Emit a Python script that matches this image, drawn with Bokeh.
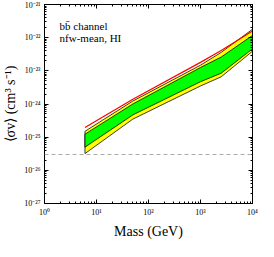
from bokeh.plotting import figure
from bokeh.models import LogAxis, LogTicker, CustomJSTickFormatter, Span, Label
from bokeh.embed import file_html
from bokeh.resources import INLINE

# Data (<sigma v> in cm^3 s^-1)
mass = [6, 50, 1000, 2500, 10000]
yellow_top = [1.5e-25, 1.23e-24, 1.48e-23, 3.6e-23, 1.8e-22]
yellow_bot = [3.2e-26, 3.5e-25, 3.5e-24, 6.6e-24, 3.9e-23]
green_top = [1.23e-25, 1.0e-24, 1.26e-23, 2.6e-23, 1.17e-22]
green_bot = [5.0e-26, 4.7e-25, 4.7e-24, 8.5e-24, 4.6e-23]
red_line = [1.95e-25, 1.4e-24, 1.8e-23, 4.1e-23, 1.6e-22]
thermal = 3e-26

SERIF = "Liberation Serif"

p = figure(width=258, height=241, x_axis_type="log", y_axis_type="log",
           x_range=(1, 1e4), y_range=(1e-27, 1e-21),
           output_backend="svg", toolbar_location=None,
           min_border_left=36, min_border_right=6, min_border_top=4, min_border_bottom=4)
p.grid.visible = False
p.background_fill_color = "white"
p.outline_line_color = "black"
p.outline_line_width = 1

sup = CustomJSTickFormatter(code="""
const m = {'-':'\u207b','0':'\u2070','1':'\u00b9','2':'\u00b2','3':'\u00b3','4':'\u2074','5':'\u2075','6':'\u2076','7':'\u2077','8':'\u2078','9':'\u2079'};
const e = String(Math.round(Math.log10(tick)));
let s = '';
for (const c of e) s += m[c];
return '10' + s;
""")
blank = CustomJSTickFormatter(code="return '';")

def style(ax, labels=True):
    ax.major_tick_in = 4
    ax.major_tick_out = 0
    ax.minor_tick_in = 2
    ax.minor_tick_out = 0
    ax.axis_line_color = "black"
    ax.major_tick_line_color = "black"
    ax.minor_tick_line_color = "black"
    ax.major_label_text_font = SERIF
    ax.major_label_text_font_size = "8px"
    ax.major_label_text_color = "black"
    ax.axis_label_text_font = SERIF
    ax.axis_label_text_font_style = "normal"
    ax.axis_label_text_color = "black"
    ax.ticker = LogTicker(num_minor_ticks=10)
    if labels:
        ax.formatter = sup
        ax.major_label_standoff = 4
    else:
        ax.formatter = blank
        ax.major_label_standoff = 0
        ax.major_label_text_font_size = "0px"

style(p.xaxis[0])
style(p.yaxis[0])
p.xaxis.axis_label = "Mass (GeV)"
p.xaxis.axis_label_text_font_size = "14px"
p.xaxis.axis_label_standoff = 4
p.yaxis.axis_label = "\u27e8\u03c3v\u27e9 (cm\u00b3 s\u207b\u00b9)"
p.yaxis.axis_label_text_font_size = "14px"
p.yaxis.axis_label_standoff = 3

top_ax = LogAxis()
right_ax = LogAxis()
style(top_ax, labels=False)
style(right_ax, labels=False)
p.add_layout(top_ax, "above")
p.add_layout(right_ax, "right")

# yellow band
p.patch(mass + mass[::-1], yellow_top + yellow_bot[::-1],
        fill_color="#ffff00", line_color="black", line_width=0.9, line_alpha=0.85)
# green band
p.patch(mass + mass[::-1], green_top + green_bot[::-1],
        fill_color="#00ff00", line_color="black", line_width=0.9, line_alpha=0.85)
# red line
p.line(mass, red_line, line_color="#ff0000", line_width=1.2)

p.add_layout(Span(location=thermal, dimension="width", line_color="#aaaaaa",
                  line_dash="4 3", line_width=1.2))

p.add_layout(Label(x=1.95, y=2.2e-22, text="b\u0062\u0304 channel", text_font=SERIF,
                   text_font_size="11px", text_baseline="middle", text_color="black"))
p.add_layout(Label(x=1.95, y=1.0e-22, text="nfw-mean, HI", text_font=SERIF,
                   text_font_size="11px", text_baseline="middle", text_color="black"))

open("out.html", "w").write(file_html(p, INLINE))
